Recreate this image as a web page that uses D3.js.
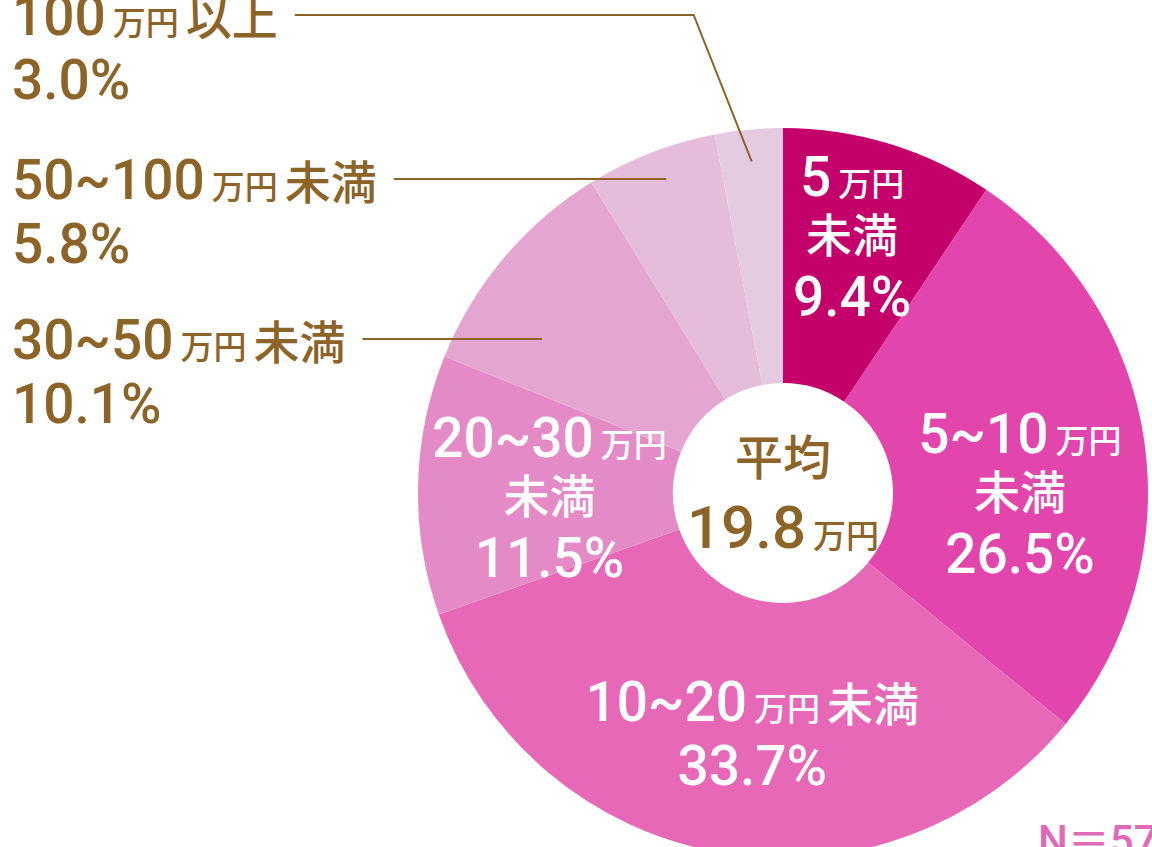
<!DOCTYPE html>
<html>
<head>
<meta charset="utf-8">
<script src="https://cdn.jsdelivr.net/npm/d3@7"></script>
<style>
  html, body { margin: 0; padding: 0; background: #fff; overflow: hidden; }
  text { font-family: Roboto, "Noto Sans CJK JP", sans-serif; font-weight: 500; }
</style>
</head>
<body>
<svg id="chart" width="1152" height="847"></svg>
<script>
// data (clockwise from 12 o'clock)
var categories = ['5万円未満', '5~10万円未満', '10~20万円未満', '20~30万円未満', '30~50万円未満', '50~100万円未満', '100万円以上'];
var rangeLabels = ['5', '5~10', '10~20', '20~30', '30~50', '50~100', '100'];
var suffixLabels = ['未満', '未満', '未満', '未満', '未満', '未満', '以上'];
var shares = [9.4, 26.5, 33.7, 11.5, 10.1, 5.8, 3.0];
var sliceColors = ['#c4006b', '#e246ad', '#e668b7', '#e48bc7', '#e4a6d0', '#e5bddb', '#e4cbe2'];
var averageValue = 19.8;
var sampleText = 'N＝57';

var brown = '#8d6428';
var width = 1152, height = 847;
var cx = 783, cy = 493, outerR = 365, innerR = 110;

// label placement: how each slice label is broken and nudged
var insideLayout = {
  0: { lines: 3, nudge: [0, -30] },
  1: { lines: 3, nudge: [2, 35] },
  2: { lines: 2, nudge: [10, 8] },
  3: { lines: 3, nudge: [4, 9] }
};
var outsideLayout = {
  4: { lineY: 339, leaderR: 286 },
  5: { lineY: 179, leaderR: 335 },
  6: { lineY: 15, leaderR: 333, elbow: true }
};

var svg = d3.select('#chart');
var g = svg.append('g').attr('transform', 'translate(' + cx + ',' + cy + ')');

var pie = d3.pie().sort(null).value(function(d) { return d; });
var arcs = pie(shares);

var arc = d3.arc().innerRadius(innerR).outerRadius(outerR);

g.selectAll('path.slice')
  .data(arcs)
  .enter().append('path')
  .attr('class', 'slice')
  .attr('d', arc)
  .attr('fill', function(d, i) { return sliceColors[i]; });

var pctFormat = function(v) { return d3.format('.1f')(v) + '%'; };

// write a list of runs (text, kind) into a text element
var addRuns = function(textSel, runs) {
  runs.forEach(function(run, k) {
    var t = textSel.append('tspan').text(run[0]);
    if (run[1] === 'num') t.attr('font-size', 55);
    if (run[1] === 'big') t.attr('font-size', 60);
    if (run[1] === 'unit') t.attr('font-size', 33);
    if (run[1] === 'kanji') t.attr('font-size', 46);
    if (k > 0 && run[1] !== 'num') t.attr('dx', 7);
  });
};

var linesFor = function(i, n) {
  var head = [[rangeLabels[i], 'num'], ['万円', 'unit']];
  if (n === 3) {
    return [head, [[suffixLabels[i], 'kanji']], [[pctFormat(shares[i]), 'num']]];
  }
  return [head.concat([[suffixLabels[i], 'kanji']]), [[pctFormat(shares[i]), 'num']]];
};

// inside labels
var insideOffsets = { 3: [-40, 16, 80], 2: [-14, 50] };
Object.keys(insideLayout).forEach(function(key) {
  var i = +key;
  var lay = insideLayout[i];
  var c = arc.centroid(arcs[i]);
  var x = c[0] + lay.nudge[0], y = c[1] + lay.nudge[1];
  var lines = linesFor(i, lay.lines);
  lines.forEach(function(runs, li) {
    var t = g.append('text')
      .attr('x', x)
      .attr('y', y + insideOffsets[lay.lines][li])
      .attr('text-anchor', 'middle')
      .attr('fill', '#fff');
    addRuns(t, runs);
  });
});

// outside labels with leader lines
var root = svg.append('g');
Object.keys(outsideLayout).forEach(function(key) {
  var i = +key;
  var lay = outsideLayout[i];
  var lines = linesFor(i, 2);
  var first = root.append('text').attr('x', 12).attr('y', lay.lineY + 20).attr('fill', brown);
  addRuns(first, lines[0]);
  var second = root.append('text').attr('x', 12).attr('y', lay.lineY + 84).attr('fill', brown);
  addRuns(second, lines[1]);

  var bb = first.node().getBBox();
  var startX = bb.x + bb.width + 17;
  var pts;
  if (lay.elbow) {
    var mid = (arcs[i].startAngle + arcs[i].endAngle) / 2;
    var ex = cx + lay.leaderR * Math.sin(mid), ey = cy - lay.leaderR * Math.cos(mid);
    pts = [[startX, lay.lineY], [ex - 58, lay.lineY], [ex, ey]];
  } else {
    var dy = lay.lineY - cy;
    var ex2 = cx - Math.sqrt(lay.leaderR * lay.leaderR - dy * dy);
    pts = [[startX, lay.lineY], [ex2, lay.lineY]];
  }
  root.append('path')
    .attr('d', d3.line()(pts))
    .attr('fill', 'none')
    .attr('stroke', brown)
    .attr('stroke-width', 2);
});

// centre average
var avgTitle = g.append('text').attr('x', 0).attr('y', -18).attr('text-anchor', 'middle').attr('fill', brown);
avgTitle.append('tspan').attr('font-size', 48).text('平均');
var avgValue = g.append('text').attr('x', 0).attr('y', 55).attr('text-anchor', 'middle').attr('fill', brown);
addRuns(avgValue, [[d3.format('.1f')(averageValue), 'big'], ['万円', 'unit']]);

// sample size, cut by the right edge
svg.append('text')
  .attr('x', 1038)
  .attr('y', 855)
  .attr('font-size', 42)
  .attr('fill', '#e06ab8')
  .text(sampleText);
</script>
</body>
</html>
